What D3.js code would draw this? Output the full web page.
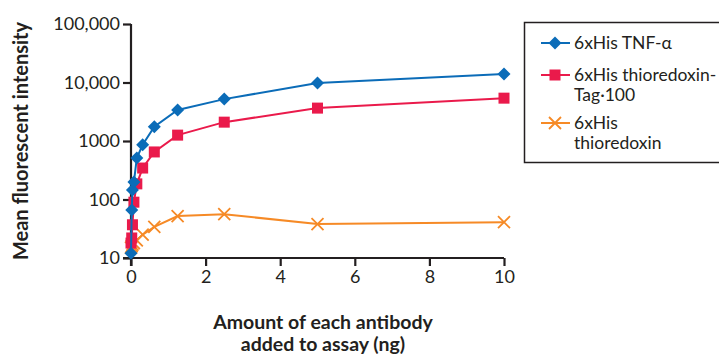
<!DOCTYPE html>
<html>
<head>
<meta charset="utf-8">
<script src="https://cdn.jsdelivr.net/npm/d3@7"></script>
<style>
  html, body { margin: 0; padding: 0; background: #fff; }
  svg text { font-family: Lato, "Open Sans", sans-serif; fill: #231f20; }
</style>
</head>
<body>
<div id="chart"></div>
<script>
// amount of antibody (ng), two-fold dilutions
var doses = [0, 0.0195, 0.039, 0.078, 0.156, 0.3125, 0.625, 1.25, 2.5, 5, 10];
var tnfAlpha = [12, 66, 145, 200, 510, 860, 1750, 3400, 5200, 9800, 14000];
var trxTag100 = [18, 22, 37, 90, 185, 345, 650, 1260, 2100, 3650, 5400];
var trx = [15, 16, 17, 18, 20, 25, 34, 52, 56, 38, 41];
var seriesNames = ["6xHis TNF-\u03b1", "6xHis thioredoxin-Tag\u00b7100", "6xHis thioredoxin"];
var xTicks = [0, 2, 4, 6, 8, 10];
var yTicks = [10, 100, 1000, 10000, 100000];

var width = 719, height = 358;
var margin = {top: 24, right: 215, bottom: 100, left: 131};

var series = [
  {name: seriesNames[0], values: tnfAlpha, color: "#0b6cb8", symbol: "diamond", legend: ["6xHis TNF-\u03b1"]},
  {name: seriesNames[1], values: trxTag100, color: "#ea1a4b", symbol: "square", legend: ["6xHis thioredoxin-", "Tag\u00b7100"]},
  {name: seriesNames[2], values: trx, color: "#f68a26", symbol: "cross", legend: ["6xHis", "thioredoxin"]}
];

var svg = d3.select("#chart").append("svg")
    .attr("width", width)
    .attr("height", height);

var x = d3.scaleLinear()
    .domain([0, 10])
    .range([margin.left, width - margin.right]);

var y = d3.scaleLog()
    .domain([10, 100000])
    .range([height - margin.bottom, margin.top]);

// Axes
var xAxis = svg.append("g")
    .attr("transform", "translate(0," + y(10) + ")")
    .call(d3.axisBottom(x).tickValues(xTicks).tickSize(8).tickPadding(4).tickFormat(d3.format("d")));

var yAxis = svg.append("g")
    .attr("transform", "translate(" + x(0) + ",0)")
    .call(d3.axisLeft(y).tickValues(yTicks).tickSize(8).tickPadding(3)
      .tickFormat(function(d) { return d === 1000 ? "1000" : d3.format(",")(d); }));

[xAxis, yAxis].forEach(function(a) {
  a.select(".domain").attr("stroke", "#231f20").attr("stroke-width", 2.2);
  a.selectAll(".tick line").attr("stroke", "#231f20").attr("stroke-width", 2.2);
  a.selectAll(".tick text").style("font-size", "18px").style("fill", "#231f20");
});
xAxis.select(".domain").attr("d", "M" + (x(0) - 8) + ",0H" + x(10));
yAxis.select(".domain").attr("d", "M0," + (y(10) + 8) + "V" + y(100000));

// Axis titles
svg.append("text")
    .attr("transform", "translate(28," + (y(10) + y(100000)) / 2 + ") rotate(-90)")
    .attr("text-anchor", "middle")
    .style("font-size", "20px")
    .style("font-weight", "bold")
    .text("Mean fluorescent intensity");

svg.append("text")
    .attr("x", 323).attr("y", 329)
    .attr("text-anchor", "middle")
    .style("font-size", "19.5px")
    .style("font-weight", "bold")
    .text("Amount of each antibody");

svg.append("text")
    .attr("x", 323).attr("y", 351)
    .attr("text-anchor", "middle")
    .style("font-size", "19.5px")
    .style("font-weight", "bold")
    .text("added to assay (ng)");

// Symbols
function drawMarker(sel, symbol, color) {
  if (symbol === "diamond") {
    sel.append("path")
        .attr("d", "M0,-6.5L6.5,0L0,6.5L-6.5,0Z")
        .attr("fill", color);
  } else if (symbol === "square") {
    sel.append("rect")
        .attr("x", -5.5).attr("y", -5.5)
        .attr("width", 11).attr("height", 11)
        .attr("fill", color);
  } else {
    sel.append("path")
        .attr("d", "M-6,-6L6,6M-6,6L6,-6")
        .attr("stroke", color)
        .attr("stroke-width", 1.8)
        .attr("fill", "none");
  }
}

var line = d3.line()
    .x(function(d) { return x(d[0]); })
    .y(function(d) { return y(d[1]); });

// draw orange first, then red, then blue on top
series.slice().reverse().forEach(function(s) {
  var pts = doses.map(function(d, i) { return [d, s.values[i]]; });
  var g = svg.append("g").attr("class", "series");
  g.append("path")
      .datum(pts)
      .attr("d", line)
      .attr("fill", "none")
      .attr("stroke", s.color)
      .attr("stroke-width", 2);
  g.selectAll(".pt")
      .data(pts)
    .enter().append("g")
      .attr("class", "pt")
      .attr("transform", function(d) { return "translate(" + x(d[0]) + "," + y(d[1]) + ")"; })
      .each(function() { drawMarker(d3.select(this), s.symbol, s.color); });
});

// Legend
var legend = svg.append("g").attr("class", "legend");
legend.append("rect")
    .attr("x", 524.5).attr("y", 22.5)
    .attr("width", 200).attr("height", 140)
    .attr("fill", "#fff")
    .attr("stroke", "#231f20")
    .attr("stroke-width", 1.5);

var legendY = [43, 75, 123];
series.forEach(function(s, i) {
  var g = legend.append("g")
      .attr("transform", "translate(555," + legendY[i] + ")");
  g.append("line")
      .attr("x1", -14).attr("x2", 15)
      .attr("stroke", s.color)
      .attr("stroke-width", 2);
  drawMarker(g, s.symbol, s.color);
  s.legend.forEach(function(t, j) {
    g.append("text")
        .attr("x", 19)
        .attr("y", 6 + j * 20)
        .style("font-size", "17.5px")
        .text(t);
  });
});
</script>
</body>
</html>
